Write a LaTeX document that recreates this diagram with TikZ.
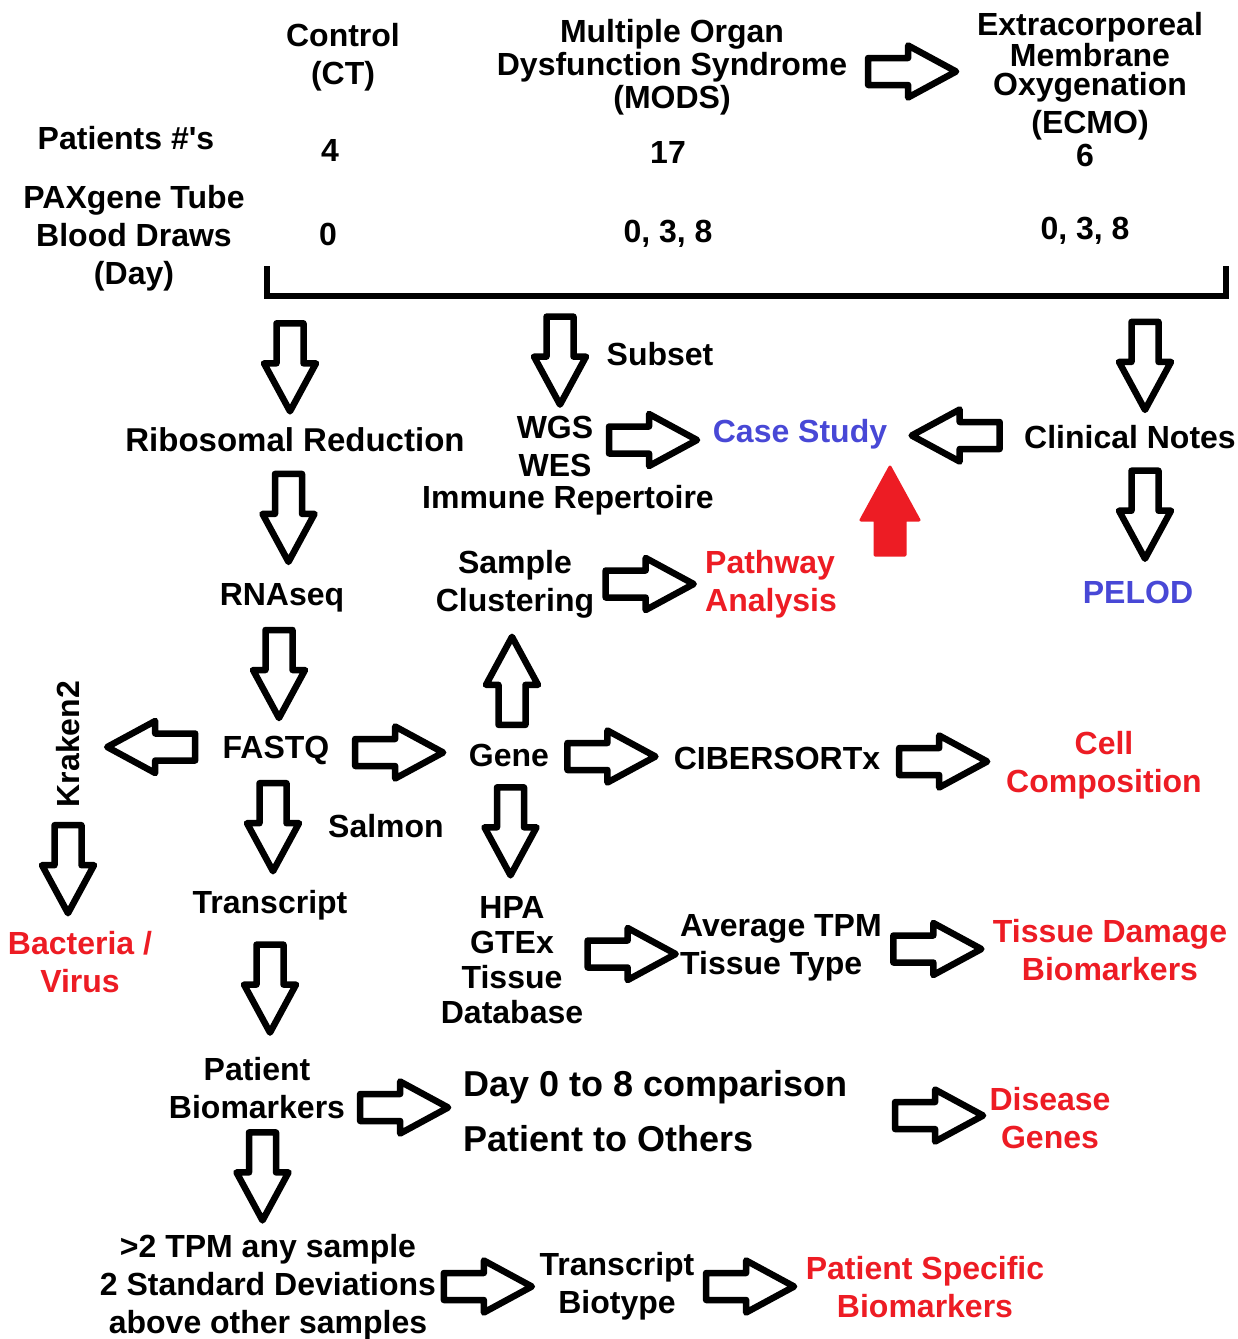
\documentclass[tikz,border=0pt]{standalone}
\usepackage{fontspec}
\setmainfont{Liberation Sans}
\usetikzlibrary{calc}
\definecolor{resred}{RGB}{237,28,36}
\definecolor{casblue}{RGB}{72,72,214}

\begin{document}
\begin{tikzpicture}[
    x=1pt, y=-1pt,
    every node/.append style={inner sep=2pt, align=center,
      font=\fontsize{32}{38}\selectfont\bfseries},
    res/.style={text=resred},
    hit/.style={text=casblue},
    bpos/.store in=\bpos, bpos=0.5,
    blk/.style={draw, line width=6.5pt, line join=round,
      to path={let \p3=($(\tikztostart)!\bpos!(\tikztotarget)$) in
        ([shift={(\p3)},rotate=#1]-44pt,-13.5pt) -- ([shift={(\p3)},rotate=#1]-4pt,-13.5pt)
        -- ([shift={(\p3)},rotate=#1]-4pt,-26pt) -- ([shift={(\p3)},rotate=#1]44pt,0pt)
        -- ([shift={(\p3)},rotate=#1]-4pt,26pt) -- ([shift={(\p3)},rotate=#1]-4pt,13.5pt)
        -- ([shift={(\p3)},rotate=#1]-44pt,13.5pt) -- cycle}},
    redblk/.style={draw=resred, fill=resred, line width=3pt, line join=round,
      to path={let \p3=($(\tikztostart)!\bpos!(\tikztotarget)$) in
        ([shift={(\p3)},rotate=#1]-44pt,-15pt) -- ([shift={(\p3)},rotate=#1]-9pt,-15pt)
        -- ([shift={(\p3)},rotate=#1]-9pt,-29pt) -- ([shift={(\p3)},rotate=#1]44pt,0pt)
        -- ([shift={(\p3)},rotate=#1]-9pt,29pt) -- ([shift={(\p3)},rotate=#1]-9pt,15pt)
        -- ([shift={(\p3)},rotate=#1]-44pt,15pt) -- cycle}}
  ]
  \useasboundingbox (0,0) rectangle (1238,1339);

  % groups and samples
  \node (ct)    at (343,57) {Control\\(CT)};
  \node (mods)  [font=\fontsize{32}{33}\selectfont\bfseries] at (672,67) {Multiple Organ\\Dysfunction Syndrome\\(MODS)};
  \node (ecmo)  [font=\fontsize{32}{29}\selectfont\bfseries] at (1090,76) {Extracorporeal\\Membrane\\Oxygenation\\[7pt](ECMO)};
  \node (npat)  at (126,138) {Patients \#\textquotesingle s};
  \node (nct)   at (330,150) {4};
  \node (nmods) at (668,152) {17};
  \node (necmo) at (1085,155) {6};
  \node (pax)   at (134,238) {PAXgene Tube\\Blood Draws\\(Day)};
  \node (dct)   at (328,234) {0};
  \node (dmods) at (668,234) {0, 3, 8};
  \node (decmo) at (1085,231) {0, 3, 8};
  \draw[line width=6pt] (267,266) |- (1226,296) -- (1226,266);
  \coordinate (b1) at (290,296);
  \coordinate (b2) at (560,296);
  \coordinate (b3) at (1145,296);

  % pipeline
  \node (ribo)   [font=\fontsize{33}{38}\selectfont\bfseries] at (295,440) {Ribosomal Reduction};
  \node (wgs)    at (555,446) {WGS\\WES};
  \node (imm)    at (568,500) {Immune Repertoire};
  \node (subset) at (660,354) {Subset};
  \node (case)   [hit] at (800,434) {Case Study};
  \node (clin)   at (1130,437) {Clinical Notes};
  \node (pelod)  [hit] at (1138,592) {PELOD};
  \node (rna)    at (282,598) {RNAseq};
  \node (clus)   at (515,584) {Sample\\Clustering};
  \node (pwa)    [res,align=left,anchor=west] at (703,584) {Pathway\\Analysis};
  \node (fastq)  at (276,750) {FASTQ};
  \node (kraken) [rotate=90] at (68,744) {Kraken2};
  \node (bact)   [res] at (80,962) {Bacteria /\\Virus};
  \node (gene)   at (509,755) {Gene};
  \node (cib)    at (777,758) {CIBERSORTx};
  \node (cell)   [res] at (1104,765) {Cell\\Composition};
  \node (salmon) at (386,826) {Salmon};
  \node (trans)  at (270,905) {Transcript};
  \node (hpa)    [font=\fontsize{32}{35}\selectfont\bfseries] at (512,960) {HPA\\GTEx\\Tissue\\Database};
  \node (avg)    [align=left,anchor=west] at (678,948) {Average TPM\\Tissue Type};
  \node (tdm)    [res] at (1110,950) {Tissue Damage\\Biomarkers};
  \node (pbio)   at (257,1088) {Patient\\Biomarkers};
  \node (cmp)    [font=\fontsize{36}{55}\selectfont\bfseries,align=left,anchor=west] at (461,1111) {Day 0 to 8 comparison\\Patient to Others};
  \node (dis)    [res] at (1050,1118) {Disease\\Genes};
  \node (tpm)    at (268,1287) {>2 TPM any sample\\2 Standard Deviations\\above other samples};
  \node (bio)    at (617,1286) {Transcript\\Biotype};
  \node (psb)    [res] at (925,1287) {Patient Specific\\Biomarkers};
  \coordinate (redtail) at (890,560);

  % block arrows
  \draw[blk=0] (mods.east) to (ecmo.west);
  \draw[blk=-90,bpos=0.55] (b1) to (b1 |- ribo.north);
  \draw[blk=-90,bpos=0.55] (b2) to (b2 |- wgs.north);
  \draw[blk=-90,bpos=0.55] (b3) to (b3 |- clin.north);
  \draw[blk=-90] (ribo.south) to (rna.north);
  \draw[blk=-90] (rna.south) to (fastq.north);
  \draw[blk=180] (fastq.west) to (kraken.south);
  \draw[blk=-90] (kraken.west) to (kraken.west |- bact.north);
  \draw[blk=0] (fastq.east) to (gene.west);
  \draw[blk=-90] (fastq.south) to (trans.north);
  \draw[blk=-90] (trans.south) to (trans.south |- pbio.north);
  \draw[blk=0] (pbio.east) to ([yshift=-16]cmp.west);
  \draw[blk=0,bpos=0.65] (cmp.east) to (dis.west);
  \draw[blk=-90] (pbio.south) to (tpm.north);
  \draw[blk=0] (tpm.east) to (bio.west);
  \draw[blk=0] (bio.east) to (psb.west);
  \draw[blk=0] (wgs.east) to (case.west);
  \draw[blk=180] (clin.west) to (case.east);
  \draw[blk=-90] (b3 |- clin.south) to (b3 |- pelod.north);
  \draw[redblk=90,bpos=0.45] (redtail) to (redtail |- case.south);
  \draw[blk=0] (clus.east) to (pwa.west);
  \draw[blk=90] (gene.north) to (clus.south);
  \draw[blk=0] (gene.east) to (cib.west);
  \draw[blk=0] (cib.east) to (cell.west);
  \draw[blk=-90] (gene.south) to (hpa.north);
  \draw[blk=0] (hpa.east) to (avg.west);
  \draw[blk=0] (avg.east) to (tdm.west);
\end{tikzpicture}
\end{document}
